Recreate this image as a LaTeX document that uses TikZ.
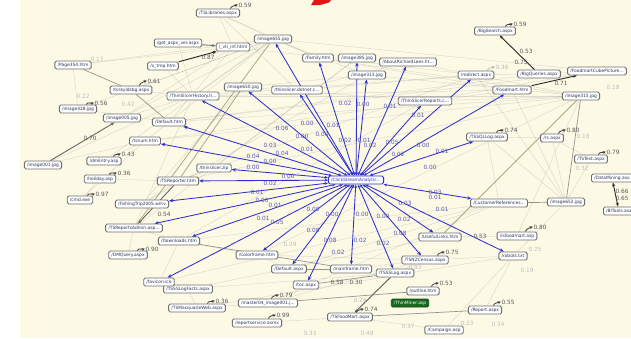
\documentclass[tikz,border=0pt]{standalone}
\usepackage{fontspec}
\setmainfont{DejaVu Sans}
\usetikzlibrary{arrows.meta,calc}
\definecolor{paper}{RGB}{252,249,229}
\definecolor{linkblue}{RGB}{48,48,208}
\definecolor{weightblue}{RGB}{86,86,180}
\definecolor{pagetext}{RGB}{40,52,92}
\definecolor{boxline}{RGB}{112,112,112}
\definecolor{trailolive}{RGB}{140,134,88}
\definecolor{minergreen}{RGB}{24,104,32}
\definecolor{marker}{RGB}{228,20,20}
\pgfdeclarelayer{paperlayer}
\pgfdeclarelayer{links}
\pgfsetlayers{paperlayer,links,main}
\tikzset{
  page/.style={draw=boxline, line width=0.9pt, fill=white, rounded corners=1.5pt,
    text=pagetext, font=\fontsize{4.4}{5}\selectfont, inner xsep=2.7pt, inner ysep=1.9pt,
    text height=3.3pt, text depth=0.9pt},
  hubpage/.style={page, draw=linkblue, line width=0.9pt, text=linkblue},
  minerpage/.style={page, fill=minergreen, draw=minergreen!70!black, text=white},
  hit/.style={draw=linkblue, line width=0.85pt,
    {Stealth[length=3.4pt,width=2.8pt]}-{Stealth[length=4.2pt,width=3.4pt]}},
  faint/.style={draw=black!40, line width=0.5pt, opacity=0.3},
  trail/.style={draw=black!55, line width=0.7pt, opacity=0.75},
  olivetrail/.style={draw=trailolive, line width=0.8pt, opacity=0.7},
  strong/.style={draw=black!85, line width=0.9pt, -{Stealth[length=4pt,width=3pt]}},
  selfloop/.style={draw=black!75, line width=0.8pt, -{Stealth[length=3.2pt,width=3pt]}},
  wblue/.style={text=weightblue, font=\fontsize{5.8}{6}\selectfont, inner sep=0pt},
  wdark/.style={text=black!65, font=\fontsize{5.8}{6}\selectfont, inner sep=0pt},
  wfaint/.style={text=black!25, font=\fontsize{5.8}{6}\selectfont, inner sep=0pt},
}
\begin{document}
\begin{tikzpicture}[x=1pt,y=-1pt]
\useasboundingbox (0,0) rectangle (631,338);
\begin{pgfonlayer}{paperlayer}
  \fill[white] (0,0) rectangle (631,338);
  \fill[paper] (20,0) rectangle (631,338);
\end{pgfonlayer}
\fill[marker] (311,5) -- (314,0) -- (331,0) -- (329,2.5) -- (320,5) -- cycle;

% ---------- pages ----------
\node[hubpage] (hub) at (356,180) {/ClickStreamAnalytic...};

\node[page] (tslib) at (218,13) {/TSLibraries.aspx};
\node[page] (getaspx) at (178,43) {/get\_aspx\_ver.aspx};
\node[page] (vti) at (233,47) {/\_vti\_inf.html};
\node[page] (xtmp) at (163,66) {/x\_tmp.htm};
\node[page] (page354) at (73,65) {/Page354.htm};
\node[page] (tsskyld) at (131,90) {/tsskyldsbg.aspx};
\node[page] (image428) at (78,109) {/image428.jpg};
\node[page] (history) at (193,96) {/ThinSlicerHistory.h...};
\node[page] (image005) at (122,118) {/image005.jpg};
\node[page] (defaulthtm) at (169,122) {/Default.htm};
\node[page] (image655) at (273,39) {/image655.jpg};
\node[page] (family) at (318,58) {/Family.htm};
\node[page] (image385) at (357,58) {/image385.jpg};
\node[page] (image313) at (367,75) {/image313.jpg};
\node[page] (about) at (408,62) {/AboutRichardLees.ht...};
\node[page] (image650) at (243,87) {/image650.jpg};
\node[page] (dotnet) at (297,90) {/thinslicer.dotnet.c...};
\node[page] (tsreports) at (425,101) {/ThinSlicerReports.c...};
\node[page] (redirect) at (476,75) {/redirect.aspx};
\node[page] (bigsearch) at (495,31) {/BigSearch.aspx};
\node[page] (bigqueries) at (539,74) {/BigQueries.aspx};
\node[page] (fcp) at (597,71) {/FoodmartCubePicture...};
\node[page] (foodmart) at (512,90) {/Foodmart.htm};
\node[page] (image315) at (581,96) {/image315.jpg};
\node[page] (tssqllog) at (487,137) {/TSSQLLog.aspx};
\node[page] (rs) at (552,138) {/rs.aspx};
\node[page] (tstest) at (591,159) {/TSTest.aspx};
\node[page,anchor=west] (datamining) at (591,178) {/DataMining.asx};
\node[page,anchor=west] (bitools) at (603,211) {/BITools.asx};
\node[page] (image652) at (566,202) {/image652.jpg};
\node[page] (custref) at (499,203) {/CustomerReferences...};
\node[page] (usefullinks) at (440,237) {/UsefulLinks.htm};
\node[page] (tsnz) at (425,260) {/TSNZCensus.aspx};
\node[page] (isfood) at (517,236) {/isfoodmart.asp};
\node[page] (robots) at (513,256) {/robots.txt};
\node[page] (outline) at (423,291) {/outline.htm};
\node[minerpage] (thinminer) at (410,303) {/ThinMiner.asp};
\node[page] (report) at (485,310) {/Report.aspx};
\node[page] (campaign) at (444,330) {/Campaign.asp};
\node[page] (tsfoodmart) at (350,317) {/TSFoodMart.aspx};
\node[page] (tssslog) at (395,273) {/TSSSLog.aspx};
\node[page] (mainframe) at (351,269) {/mainframe.htm};
\node[page] (toc) at (306,285) {/toc.aspx};
\node[page] (defaultaspx) at (289,269) {/Default.aspx};
\node[page] (colorframe) at (257,255) {/Colorframe.htm};
\node[page] (master04) at (268,303) {/master04\_image001.j...};
\node[page] (reportservice) at (257,323) {/reportservice.asmx};
\node[page] (tsmacq) at (197,308) {/TSMacquarieWeb.aspx};
\node[page] (tssslogfacts) at (188,289) {/TSSSLogFacts.aspx};
\node[page] (favicon) at (159,282) {/favicon.ico};
\node[page] (dmquery) at (128,255) {/DMQuery.aspx};
\node[page] (downloads) at (179,241) {/Downloads.htm};
\node[page] (tsradmin) at (134,228) {/TSReportsAdmin.asp...};
\node[page] (fishing) at (142,204) {/FishingTrip2005.wmv};
\node[page] (tsreporter) at (178,181) {/TSReporter.htm};
\node[page] (tzip) at (214,168) {/thinslicer.zip};
\node[page] (tsnum) at (145,141) {/tsnum.htm};
\node[page] (dmentry) at (104,161) {/dmEntry.asp};
\node[page] (holiday) at (100,179) {/holiday.asp};
\node[page] (cmd) at (80,200) {/cmd.exe};
\node[page] (image001) at (43,165) {/image001.jpg};

% ---------- links ----------
\begin{pgfonlayer}{links}
  % faint background transitions
  \foreach \a/\b in {history/image655, history/foodmart, history/redirect, history/image315,
    defaulthtm/image655, defaulthtm/vti, defaulthtm/image315, defaulthtm/bigqueries,
    image005/vti, image005/image655, tsskyld/image655, tsskyld/history, page354/image428,
    image428/defaulthtm, xtmp/image655, tslib/image655, tslib/dotnet, image655/family,
    image655/image313, image655/fcp, vti/redirect, dotnet/redirect, family/foodmart,
    about/image315, tsreports/image315, tsreports/fcp, redirect/image652, foodmart/image652,
    tssqllog/image652, tssqllog/rs, rs/image652, custref/tssqllog, tstest/image652,
    image652/robots, custref/downloads, usefullinks/isfood, robots/tsnz, robots/campaign,
    report/robots, tsfoodmart/campaign, tssslog/tsnz, mainframe/tsnz, tsmacq/tssslogfacts,
    tssslogfacts/favicon, favicon/downloads, downloads/colorframe, colorframe/defaultaspx,
    tsradmin/downloads, fishing/tsreporter, tsreporter/holiday, dmentry/tsnum, holiday/cmd,
    image001/tsnum, tsnum/defaulthtm, dmquery/tsradmin, tzip/tsreporter, fishing/image650,
    tsradmin/history, image428/image655, page354/vti, tsnum/image315, tsreporter/redirect,
    dmentry/image655, colorframe/image315, defaultaspx/custref, master04/tsnz,
    tssslogfacts/tssslog, tsmacq/master04, reportservice/tsfoodmart, isfood/image315,
    rs/tstest, bigqueries/fcp, redirect/bigqueries, image313/image315, family/image315,
    tsreporter/image315, fishing/image313, tsradmin/image385, downloads/tsreports,
    image001/history, cmd/tsnum, favicon/custref, colorframe/tsnz, tssslogfacts/usefullinks,
    master04/custref, tsmacq/robots, page354/image655, getaspx/history, xtmp/history,
    tslib/vti, tslib/family, image650/image313, dotnet/about, image650/tsreports,
    image005/history, tzip/image385, defaulthtm/fcp, tsnum/foodmart}
    {\draw[faint] (\a) -- (\b);}
  % stronger background transitions
  \draw[trail] (page354) -- (tsskyld);
  \draw[trail] (tsskyld) -- (defaulthtm);
  \draw[trail] (downloads) -- (mainframe);
  \draw[trail] (defaultaspx) -- (mainframe);
  \draw[trail] (toc) -- (tssslog);
  \draw[trail] (master04) -- (outline);
  \draw[trail] (tsfoodmart) -- (report);
  \draw[trail] (image315) -- (image652);
  \draw[trail] (custref) -- (image652);
  \draw[olivetrail] (usefullinks) -- (image315);
  \draw[olivetrail] (tsradmin) -- (image655);
  \draw[olivetrail] (tsreporter) -- (image650);
  % weighted directed transitions
  \draw[strong] (xtmp) -- (vti);
  \draw[strong, draw=black!55] (getaspx) -- (vti);
  \draw[strong] (bigqueries) -- (bigsearch);
  \draw[strong] (foodmart) -- (fcp);
  \draw[strong, {Stealth[length=4pt,width=3pt]}-{Stealth[length=4pt,width=3pt]}] (datamining) -- (bitools);
  \draw[strong, draw=black!60] (image001) -- (image005);
  \draw[strong, draw=black!60] (tsreporter) -- (tsradmin);
  \draw[strong, draw=black!65] (tssslog) -- (tsfoodmart);
  % hub hits
  \foreach \t in {image655, image650, dotnet, family, image385, image313, about, tsreports,
    redirect, foodmart, tssqllog, custref, usefullinks, tsnz, robots, tssslog, mainframe,
    toc, defaultaspx, colorframe, favicon, downloads, tsradmin, fishing, tsreporter, tzip,
    tsnum, defaulthtm, history}
    {\draw[hit] (hub) -- (\t);}
\end{pgfonlayer}

% ---------- self-loops with their weights ----------
\foreach \p/\x/\y/\w [count=\k] in {tslib/245/5/0.59, tsskyld/154/81/0.61,
  image428/101/103/0.56, dmentry/128/154/0.43, holiday/124/173/0.36, cmd/102/194/0.97,
  dmquery/152/249/0.90, tsmacq/222/301/0.36, master04/286/295/0.79,
  reportservice/283/315/0.99, tsfoodmart/371/309/0.74, outline/446/283/0.53,
  report/508/302/0.55, tsnz/452/252/0.75, isfood/540/227/0.80, tssqllog/511/130/0.74,
  rs/573/130/0.80, tstest/613/152/0.79, bigsearch/520/24/0.59}
  {\node[wdark] (lw\k) at (\x,\y) {\w};
   \draw[selfloop] ($(lw\k.west |- \p.north)+(-8pt,0)$) .. controls +(75:3pt) and +(205:2.5pt) .. ($(lw\k.west)+(-0.5pt,0.5pt)$);}
\node[wfaint] (lwr) at (502,67) {0.36};
\draw[selfloop, opacity=0.3] ($(lwr.west |- redirect.north)+(-8pt,0)$) .. controls +(75:3pt) and +(205:2.5pt) .. ($(lwr.west)+(-0.5pt,0.5pt)$);

% ---------- weights on hub hits ----------
\foreach \x/\y/\w [count=\k] in {307/123/0.00, 333/125/0.01, 282/128/0.06, 302/136/0.00,
  322/134/0.00, 345/140/0.02, 364/140/0.01, 370/145/0.02, 392/142/0.05, 270/145/0.03,
  282/153/0.04, 307/149/0.01, 253/156/0.04, 270/161/0.00, 398/154/0.02, 253/167/0.00,
  288/176/0.00, 270/183/0.02, 257/192/0.01, 262/200/0.00, 275/205/0.01, 263/218/0.01,
  277/222/0.05, 313/209/0.00, 332/214/0.00, 362/214/0.00, 383/216/0.00, 404/219/0.02,
  405/203/0.03, 418/115/0.01, 423/145/0.00, 442/151/0.01, 430/167/0.00, 435/192/0.03,
  435/197/0.01, 442/209/0.01, 313/230/0.08, 330/240/0.08, 360/240/0.02, 383/243/0.02,
  338/252/0.02, 400/233/0.08, 345/103/0.02, 363/104/0.00, 390/106/0.01}
  {\node[wblue] (bw\k) at (\x,\y) {\w};}

% ---------- weights on other transitions ----------
\foreach \x/\y/\w [count=\k] in {208/57/0.87, 526/51/0.53, 561/83/0.71,
  622/191/0.66, 622/198/0.65, 90/138/0.70, 164/214/0.54, 480/236/0.53, 337/282/0.58,
  356/282/0.30, 521/62/0.75}
  {\node[wdark] (gw\k) at (\x,\y) {\w};}
\foreach \x/\y/\w [count=\k] in {97/59/0.17, 128/104/0.42, 83/96/0.22, 613/87/0.18,
  583/136/0.18, 582/168/0.32, 535/249/0.25, 527/270/0.19, 498/324/0.34, 467/323/0.23,
  408/326/0.37, 415/267/0.83, 367/333/0.49, 310/333/0.33, 290/244/0.29, 360/300/0.24}
  {\node[wfaint] (fw\k) at (\x,\y) {\w};}
\end{tikzpicture}
\end{document}
